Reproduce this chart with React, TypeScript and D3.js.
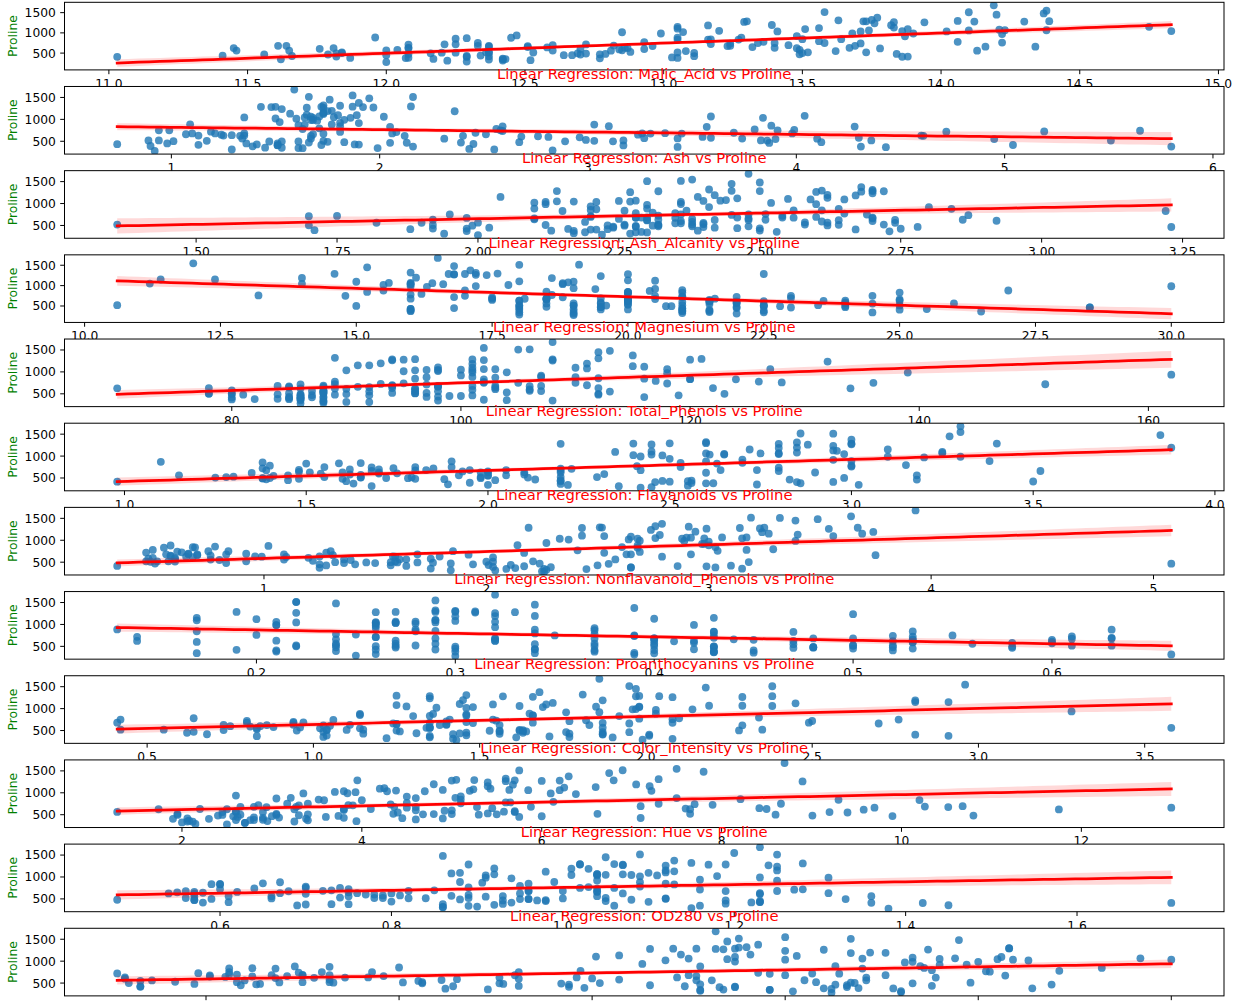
import * as d3 from "d3";

// wine dataset, 178 samples per column (class 1 / class 2 / class 3)
const alcohol = [
  14.23, 13.2, 13.16, 14.37, 13.24, 14.2, 14.39, 14.06, 14.83, 13.86, 14.1, 14.12, 13.75, 14.75, 14.38, 13.63, 14.3, 13.83, 14.19, 13.64, 14.06, 12.93, 13.71, 12.85, 13.5, 13.05, 13.39, 13.3, 13.87, 14.02, 13.73, 13.58, 13.68, 13.76, 13.51, 13.48, 13.28, 13.05, 13.07, 14.22, 13.56, 13.41, 13.88, 13.24, 13.05, 14.21, 14.38, 13.9, 14.1, 13.94, 13.05, 13.83, 13.82, 13.77, 13.74, 13.56, 14.22, 13.29, 13.72,
  12.37, 12.33, 12.64, 13.67, 12.37, 12.17, 12.37, 13.11, 12.37, 13.34, 12.21, 12.29, 13.86, 13.49, 12.99, 11.96, 11.66, 13.03, 11.84, 12.33, 12.7, 12, 12.72, 12.08, 13.05, 11.84, 12.67, 12.16, 11.65, 11.64, 12.08, 12.08, 12, 12.69, 12.29, 11.62, 12.47, 11.81, 12.29, 12.37, 12.29, 12.08, 12.6, 12.34, 11.82, 12.51, 12.42, 12.25, 12.72, 12.22, 11.61, 11.46, 12.52, 11.76, 11.41, 12.08, 11.03, 11.82, 12.42, 12.77, 12, 11.45, 11.56, 12.42, 13.05, 11.87, 12.07, 12.43, 11.79, 12.37, 12.04,
  12.86, 12.88, 12.81, 12.7, 12.51, 12.6, 12.25, 12.53, 13.49, 12.84, 12.93, 13.36, 13.52, 13.62, 12.25, 13.16, 13.88, 12.87, 13.32, 13.08, 13.5, 12.79, 13.11, 13.23, 12.58, 13.17, 13.84, 12.45, 14.34, 13.48, 12.36, 13.69, 12.85, 12.96, 13.78, 13.73, 13.45, 12.82, 13.58, 13.4, 12.2, 12.77, 14.16, 13.71, 13.4, 13.27, 13.17, 14.13,
];
const malicAcid = [
  1.71, 1.78, 2.36, 1.95, 2.59, 1.76, 1.87, 2.15, 1.64, 1.35, 2.16, 1.48, 1.73, 1.73, 1.87, 1.81, 1.92, 1.57, 1.59, 3.1, 1.63, 3.8, 1.86, 1.6, 1.81, 2.05, 1.77, 1.72, 1.9, 1.68, 1.5, 1.66, 1.83, 1.53, 1.8, 1.81, 1.64, 1.65, 1.5, 3.99, 1.71, 3.84, 1.89, 3.98, 1.77, 4.04, 3.59, 1.68, 2.02, 1.73, 1.73, 1.65, 1.75, 1.9, 1.67, 1.73, 1.7, 1.97, 1.43,
  0.94, 1.1, 1.36, 1.25, 1.13, 1.45, 1.21, 1.01, 1.17, 0.94, 1.19, 1.61, 1.51, 1.66, 1.67, 1.09, 1.88, 0.9, 2.89, 0.99, 3.87, 0.92, 1.81, 1.13, 3.86, 0.89, 0.98, 1.61, 1.67, 2.06, 1.33, 1.83, 1.51, 1.53, 2.83, 1.99, 1.52, 2.12, 1.41, 1.07, 3.17, 2.08, 1.34, 2.45, 1.72, 1.73, 2.55, 1.73, 1.75, 1.29, 1.35, 3.74, 2.43, 2.68, 0.74, 1.39, 1.51, 1.47, 1.61, 3.43, 3.43, 2.4, 2.05, 4.43, 5.8, 4.31, 2.16, 1.53, 2.13, 1.63, 4.3,
  1.35, 2.99, 2.31, 3.55, 1.24, 2.46, 4.72, 5.51, 3.59, 2.96, 2.81, 2.56, 3.17, 4.95, 3.88, 3.57, 5.04, 4.61, 3.24, 3.9, 3.12, 2.67, 1.9, 3.3, 1.29, 5.19, 4.12, 3.03, 1.68, 1.67, 3.83, 3.26, 3.27, 3.45, 2.76, 4.36, 3.7, 3.37, 2.58, 4.6, 3.03, 2.39, 2.51, 5.65, 3.91, 4.28, 2.59, 4.1,
];
const ash = [
  2.43, 2.14, 2.67, 2.5, 2.87, 2.45, 2.45, 2.61, 2.17, 2.27, 2.3, 2.32, 2.41, 2.39, 2.38, 2.7, 2.72, 2.62, 2.48, 2.56, 2.28, 2.65, 2.36, 2.52, 2.61, 3.22, 2.62, 2.14, 2.8, 2.21, 2.7, 2.36, 2.36, 2.7, 2.65, 2.41, 2.84, 2.55, 2.1, 2.51, 2.31, 2.12, 2.59, 2.29, 2.1, 2.44, 2.28, 2.12, 2.4, 2.27, 2.04, 2.6, 2.42, 2.68, 2.25, 2.46, 2.3, 2.68, 2.5,
  1.36, 2.28, 2.02, 1.92, 2.16, 2.53, 2.56, 1.7, 1.92, 2.36, 1.75, 2.21, 2.67, 2.24, 2.6, 2.3, 1.92, 1.71, 2.23, 1.95, 2.4, 2, 2.2, 2.51, 2.32, 2.58, 2.24, 2.31, 2.62, 2.46, 2.3, 2.32, 2.42, 2.26, 2.22, 2.28, 2.2, 2.74, 1.98, 2.1, 2.21, 1.7, 1.9, 2.46, 1.88, 1.98, 2.27, 2.12, 2.28, 1.94, 2.7, 1.82, 2.17, 2.92, 2.5, 2.5, 2.2, 1.99, 2.19, 1.98, 2, 2.42, 3.23, 2.73, 2.13, 2.39, 2.17, 2.29, 2.78, 2.3, 2.38,
  2.32, 2.4, 2.4, 2.36, 2.25, 2.2, 2.54, 2.64, 2.19, 2.61, 2.7, 2.35, 2.72, 2.35, 2.2, 2.15, 2.23, 2.48, 2.38, 2.36, 2.62, 2.48, 2.75, 2.28, 2.1, 2.32, 2.38, 2.64, 2.7, 2.64, 2.38, 2.54, 2.58, 2.35, 2.3, 2.26, 2.6, 2.3, 2.69, 2.86, 2.32, 2.28, 2.48, 2.45, 2.48, 2.26, 2.37, 2.74,
];
const ashAlcanity = [
  15.6, 11.2, 18.6, 16.8, 21, 15.2, 14.6, 17.6, 14, 16, 18, 16.8, 16, 11.4, 12, 17.2, 20, 20, 16.5, 15.2, 16, 18.6, 16.6, 17.8, 20, 25, 16.1, 17, 19.4, 16, 22.5, 19.1, 17.2, 19.5, 19, 20.5, 15.5, 18, 15.5, 13.2, 16.2, 18.8, 15, 17.5, 17, 18.9, 16, 16, 18.8, 17.4, 12.4, 17.2, 14, 17.1, 16.4, 20.5, 16.3, 16.8, 16.7,
  10.6, 16, 16.8, 18, 19, 19, 18.1, 15, 19.6, 17, 16.8, 20.4, 25, 24, 30, 21, 16, 16, 18, 14.8, 23, 19, 18.8, 24, 22.5, 18, 18, 22.8, 26, 21.6, 23.6, 18.5, 22, 20.7, 18, 18, 19, 21.5, 16, 18.5, 18, 17.5, 18.5, 21, 19.5, 20.5, 22, 19, 22.5, 19, 20, 19.5, 21, 20, 21, 22.5, 21.5, 20.8, 22.5, 16, 19, 20, 28.5, 26.5, 21.5, 21, 21, 21.5, 28.5, 24.5, 22,
  18, 20, 24, 21.5, 17.5, 18.5, 21, 25, 19.5, 24, 21, 20, 23.5, 20, 18.5, 21, 20, 21.5, 21.5, 21.5, 24, 22, 25.5, 18.5, 20, 22, 19.5, 27, 25, 22.5, 21, 20, 22, 18.5, 22, 22.5, 23, 19.5, 24.5, 25, 19, 19.5, 20, 20.5, 23, 20, 20, 24.5,
];
const magnesium = [
  127, 100, 101, 113, 118, 112, 96, 121, 97, 98, 105, 95, 89, 91, 102, 112, 120, 115, 108, 116, 126, 102, 101, 95, 96, 124, 93, 94, 107, 96, 101, 106, 104, 132, 110, 100, 110, 98, 98, 128, 117, 90, 101, 103, 107, 111, 102, 101, 103, 108, 92, 94, 111, 115, 118, 116, 118, 102, 108,
  88, 101, 100, 94, 87, 104, 98, 78, 78, 110, 151, 103, 86, 87, 139, 101, 97, 86, 112, 136, 101, 86, 86, 78, 85, 94, 99, 90, 88, 84, 70, 81, 86, 80, 88, 98, 162, 134, 85, 88, 88, 97, 88, 98, 86, 85, 90, 80, 84, 92, 94, 107, 88, 103, 88, 84, 85, 86, 108, 80, 87, 96, 119, 102, 86, 82, 85, 86, 92, 88, 80,
  122, 104, 98, 106, 85, 94, 89, 96, 88, 101, 96, 89, 97, 92, 112, 102, 80, 86, 92, 113, 123, 112, 116, 98, 103, 93, 89, 97, 98, 89, 88, 107, 106, 106, 90, 88, 111, 88, 105, 112, 96, 86, 91, 95, 102, 120, 120, 96,
];
const totalPhenols = [
  2.8, 2.65, 2.8, 3.85, 2.8, 3.27, 2.5, 2.6, 2.8, 2.98, 2.95, 2.2, 2.6, 3.1, 3.3, 2.85, 2.8, 2.95, 3.3, 2.7, 3, 2.41, 2.61, 2.48, 2.53, 2.63, 2.85, 2.4, 2.95, 2.65, 3, 2.86, 2.42, 2.95, 2.35, 2.7, 2.6, 2.45, 2.4, 3, 3.15, 2.45, 3.25, 2.64, 3, 2.85, 3.25, 3.1, 2.75, 2.88, 2.72, 2.45, 3.88, 3, 2.6, 2.96, 3.2, 3, 3.4,
  1.98, 2.05, 2.02, 2.1, 3.5, 1.89, 2.42, 2.98, 2.11, 2.53, 1.85, 1.1, 2.95, 1.88, 3.3, 3.38, 1.61, 1.95, 1.72, 1.9, 2.83, 2.42, 2.2, 2, 1.65, 2.2, 2.2, 1.78, 1.92, 1.95, 2.2, 1.6, 1.45, 1.38, 2.45, 3.02, 2.5, 1.6, 2.55, 3.52, 2.85, 2.23, 1.45, 2.56, 2.5, 2.2, 1.68, 1.65, 1.38, 2.36, 2.74, 3.18, 2.55, 1.75, 2.48, 2.56, 2.46, 1.98, 2, 1.63, 2, 2.9, 3.18, 2.2, 2.62, 2.86, 2.6, 2.74, 2.13, 2.22, 2.1,
  1.51, 1.3, 1.15, 1.7, 2, 1.62, 1.38, 1.79, 1.62, 2.32, 1.54, 1.4, 1.55, 2, 1.38, 1.5, 0.98, 1.7, 1.93, 1.41, 1.4, 1.48, 2.2, 1.8, 1.48, 1.74, 1.8, 1.9, 2.8, 2.6, 2.3, 1.83, 1.65, 1.39, 1.35, 1.28, 1.7, 1.48, 1.55, 1.98, 1.25, 1.39, 1.68, 1.68, 1.8, 1.59, 1.65, 2.05,
];
const flavanoids = [
  3.06, 2.76, 3.24, 3.49, 2.69, 3.39, 2.52, 2.51, 2.98, 3.15, 3.32, 2.43, 2.76, 3.69, 3.64, 2.91, 3.14, 3.4, 3.93, 3.03, 3.17, 2.41, 2.88, 2.37, 2.61, 2.68, 2.94, 2.19, 2.97, 2.33, 3.25, 3.19, 2.69, 2.74, 2.53, 2.98, 2.68, 2.43, 2.64, 3.04, 3.29, 2.68, 3.56, 2.63, 3, 2.65, 3.17, 3.39, 2.92, 3.54, 3.27, 2.99, 3.74, 2.79, 2.9, 2.78, 3, 3.23, 3.67,
  0.57, 1.09, 1.41, 1.79, 3.1, 1.75, 2.65, 3.18, 2, 1.3, 1.28, 1.02, 2.86, 1.84, 2.89, 2.14, 1.57, 2.03, 1.32, 1.85, 2.55, 2.26, 2.53, 1.58, 1.59, 2.21, 1.94, 1.69, 1.61, 1.69, 1.59, 1.5, 1.25, 1.46, 2.25, 2.26, 2.27, 0.99, 2.5, 3.75, 2.99, 2.17, 1.36, 2.11, 1.64, 1.92, 1.84, 2.03, 1.76, 2.04, 2.92, 2.58, 2.27, 2.03, 2.01, 2.29, 2.17, 1.6, 2.09, 1.25, 1.64, 2.79, 5.08, 2.13, 2.65, 3.03, 2.65, 3.15, 2.24, 2.45, 1.75,
  1.25, 1.22, 1.09, 1.2, 0.58, 0.66, 0.47, 0.6, 0.48, 0.6, 0.5, 0.5, 0.52, 0.8, 0.78, 0.55, 0.34, 0.65, 0.76, 1.39, 1.57, 1.36, 1.28, 0.83, 0.58, 0.63, 0.83, 0.58, 1.31, 1.1, 0.92, 0.56, 0.6, 0.7, 0.68, 0.47, 0.92, 0.66, 0.84, 0.96, 0.49, 0.51, 0.7, 0.61, 0.75, 0.69, 0.68, 0.76,
];
const nonflavanoidPhenols = [
  0.28, 0.26, 0.3, 0.24, 0.39, 0.34, 0.3, 0.31, 0.29, 0.22, 0.22, 0.26, 0.29, 0.43, 0.29, 0.3, 0.33, 0.4, 0.32, 0.17, 0.24, 0.25, 0.27, 0.26, 0.28, 0.47, 0.34, 0.27, 0.37, 0.26, 0.29, 0.22, 0.42, 0.5, 0.29, 0.26, 0.34, 0.29, 0.28, 0.2, 0.34, 0.27, 0.17, 0.32, 0.28, 0.3, 0.27, 0.21, 0.32, 0.32, 0.17, 0.22, 0.32, 0.39, 0.21, 0.2, 0.26, 0.31, 0.19,
  0.28, 0.63, 0.53, 0.32, 0.19, 0.45, 0.37, 0.26, 0.27, 0.55, 0.14, 0.37, 0.21, 0.27, 0.21, 0.13, 0.34, 0.24, 0.43, 0.35, 0.43, 0.3, 0.26, 0.4, 0.61, 0.22, 0.3, 0.43, 0.4, 0.48, 0.42, 0.52, 0.5, 0.58, 0.25, 0.17, 0.32, 0.14, 0.29, 0.24, 0.45, 0.26, 0.29, 0.34, 0.37, 0.32, 0.66, 0.37, 0.48, 0.39, 0.29, 0.24, 0.26, 0.6, 0.42, 0.43, 0.52, 0.3, 0.34, 0.43, 0.37, 0.32, 0.47, 0.43, 0.3, 0.21, 0.37, 0.39, 0.58, 0.4, 0.42,
  0.21, 0.24, 0.27, 0.17, 0.6, 0.63, 0.53, 0.63, 0.58, 0.53, 0.53, 0.37, 0.5, 0.47, 0.29, 0.43, 0.4, 0.47, 0.45, 0.34, 0.22, 0.24, 0.26, 0.61, 0.53, 0.61, 0.48, 0.63, 0.53, 0.52, 0.5, 0.5, 0.6, 0.4, 0.41, 0.52, 0.43, 0.4, 0.39, 0.27, 0.4, 0.48, 0.44, 0.52, 0.43, 0.43, 0.53, 0.56,
];
const proanthocyanins = [
  2.29, 1.28, 2.81, 2.18, 1.82, 1.97, 1.98, 1.25, 1.98, 1.85, 2.38, 1.57, 1.81, 2.81, 2.96, 1.46, 1.97, 1.72, 1.86, 1.66, 2.1, 1.98, 1.69, 1.46, 1.66, 1.92, 1.45, 1.35, 1.76, 1.98, 2.38, 1.95, 1.97, 1.35, 1.54, 1.86, 1.36, 1.44, 1.37, 2.08, 2.34, 1.48, 1.7, 1.66, 2.03, 1.25, 2.19, 2.14, 2.38, 2.08, 2.91, 2.29, 1.87, 1.68, 1.62, 2.45, 2.03, 1.66, 2.04,
  0.42, 0.41, 0.62, 0.73, 1.87, 1.03, 2.08, 2.28, 1.04, 0.42, 2.5, 1.46, 1.87, 1.03, 1.96, 1.65, 1.15, 1.46, 0.95, 2.76, 1.95, 1.43, 1.77, 1.4, 1.62, 2.35, 1.46, 1.56, 1.34, 1.35, 1.38, 1.64, 1.63, 1.62, 1.99, 1.35, 3.28, 1.56, 1.77, 1.95, 2.81, 1.4, 1.35, 1.31, 1.42, 1.48, 1.42, 1.63, 1.63, 2.08, 2.49, 3.58, 1.22, 1.05, 1.44, 1.04, 2.01, 1.53, 1.61, 0.83, 1.87, 1.83, 1.87, 1.71, 2.01, 2.91, 1.35, 1.77, 1.76, 1.9, 1.35,
  0.94, 0.83, 0.83, 0.84, 1.25, 0.94, 0.8, 1.1, 0.88, 0.81, 0.75, 0.64, 0.55, 1.02, 1.14, 1.3, 0.68, 0.86, 1.25, 1.14, 1.25, 1.26, 1.56, 1.87, 1.4, 1.55, 1.56, 1.14, 2.7, 2.29, 1.04, 0.8, 0.96, 0.94, 1.03, 1.15, 1.46, 0.97, 1.54, 1.11, 0.73, 0.64, 1.24, 1.06, 1.41, 1.35, 1.46, 1.35,
];
const colorIntensity = [
  5.64, 4.38, 5.68, 7.8, 4.32, 6.75, 5.25, 5.05, 5.2, 7.22, 5.75, 5, 5.6, 5.4, 7.5, 7.3, 6.2, 6.6, 8.7, 5.1, 5.65, 4.5, 3.8, 3.93, 3.52, 3.58, 4.8, 3.95, 4.5, 4.7, 5.7, 6.9, 3.84, 5.4, 4.2, 5.1, 4.6, 4.25, 3.7, 5.1, 6.13, 4.28, 5.43, 4.36, 5.04, 5.24, 4.9, 6.1, 6.2, 8.9, 7.2, 5.6, 7.05, 6.3, 5.85, 6.25, 6.38, 6, 6.8,
  1.95, 3.27, 5.75, 3.8, 4.45, 2.95, 4.6, 5.3, 4.68, 3.17, 2.85, 3.05, 3.38, 3.74, 3.35, 3.21, 3.8, 4.6, 2.65, 3.4, 2.57, 2.5, 3.9, 2.2, 4.8, 3.05, 2.62, 2.45, 2.6, 2.8, 1.74, 2.4, 3.6, 3.05, 2.15, 3.25, 2.6, 2.5, 2.9, 4.5, 2.3, 3.3, 2.45, 2.8, 2.06, 2.94, 2.7, 3.4, 3.3, 2.7, 2.65, 2.9, 2, 3.8, 3.08, 2.9, 1.9, 1.95, 2.06, 3.4, 1.28, 3.25, 6, 2.08, 2.6, 2.8, 2.76, 3.94, 3, 2.12, 2.6,
  4.1, 5.4, 5.7, 5, 5.45, 7.1, 3.85, 5, 5.7, 4.92, 4.6, 5.6, 4.35, 4.4, 8.21, 4, 4.9, 7.65, 8.42, 9.4, 8.6, 10.8, 7.1, 10.52, 7.6, 7.9, 9.01, 7.5, 13, 11.75, 7.65, 5.88, 5.58, 5.28, 9.58, 6.62, 10.68, 10.26, 8.66, 8.5, 5.5, 9.9, 9.7, 7.7, 7.3, 10.2, 9.3, 9.2,
];
const hue = [
  1.04, 1.05, 1.03, 0.86, 1.04, 1.05, 1.02, 1.06, 1.08, 1.01, 1.25, 1.17, 1.15, 1.25, 1.2, 1.28, 1.07, 1.13, 1.23, 0.96, 1.09, 1.03, 1.11, 1.09, 1.12, 1.13, 0.92, 1.02, 1.25, 1.04, 1.19, 1.09, 1.23, 1.25, 1.1, 1.04, 1.09, 1.12, 1.18, 0.89, 0.95, 0.91, 0.88, 0.82, 0.88, 0.87, 1.04, 0.91, 1.07, 1.12, 1.12, 1.24, 1.01, 1.13, 0.92, 0.98, 0.94, 1.07, 0.89,
  1.05, 1.25, 0.98, 1.23, 1.22, 1.45, 1.19, 1.12, 1.12, 1.02, 1.28, 0.906, 1.36, 0.98, 1.31, 0.99, 1.23, 1.19, 0.96, 1.06, 1.19, 1.38, 1.16, 1.31, 0.84, 0.79, 1.23, 1.33, 1.36, 1, 1.07, 1.08, 1.05, 0.96, 1.15, 1.16, 1.16, 0.95, 1.23, 1.04, 1.42, 1.27, 1.04, 0.8, 0.94, 1.04, 0.86, 1, 0.88, 0.86, 0.96, 0.75, 0.9, 1.23, 1.1, 0.93, 1.71, 0.95, 1.06, 0.7, 0.93, 0.8, 0.93, 0.92, 0.73, 0.75, 0.86, 0.69, 0.97, 0.89, 0.79,
  0.76, 0.74, 0.66, 0.78, 0.75, 0.73, 0.75, 0.82, 0.81, 0.89, 0.77, 0.7, 0.89, 0.91, 0.65, 0.6, 0.58, 0.54, 0.55, 0.57, 0.59, 0.48, 0.61, 0.56, 0.58, 0.6, 0.57, 0.67, 0.57, 0.57, 0.56, 0.96, 0.87, 0.68, 0.7, 0.78, 0.85, 0.72, 0.74, 0.67, 0.66, 0.57, 0.62, 0.64, 0.7, 0.59, 0.6, 0.61,
];
const od280 = [
  3.92, 3.4, 3.17, 3.45, 2.93, 2.85, 3.58, 3.58, 2.85, 3.55, 3.17, 2.82, 2.9, 2.73, 3, 2.88, 2.65, 2.57, 2.82, 3.36, 3.71, 3.52, 4, 3.63, 3.82, 3.2, 3.22, 2.77, 3.4, 3.59, 2.71, 2.88, 2.87, 3, 2.87, 3.47, 2.78, 2.51, 2.69, 3.53, 3.38, 3, 3.56, 3, 3.35, 3.33, 3.44, 3.33, 2.75, 3.1, 2.91, 3.37, 3.26, 2.93, 3.2, 3.03, 3.31, 2.84, 2.87,
  1.82, 1.67, 1.59, 2.46, 2.87, 2.23, 2.3, 3.18, 3.48, 1.93, 3.07, 1.82, 3.16, 2.78, 3.5, 3.13, 2.14, 2.48, 2.52, 2.31, 3.13, 3.12, 3.14, 2.72, 2.01, 3.08, 3.16, 2.26, 3.21, 2.75, 3.21, 2.27, 2.65, 2.06, 3.3, 2.96, 2.63, 2.26, 2.74, 2.77, 2.83, 2.96, 2.77, 3.38, 2.44, 3.57, 3.3, 3.17, 2.42, 3.02, 3.26, 2.81, 2.78, 2.5, 2.31, 3.19, 2.87, 3.33, 2.96, 2.12, 3.05, 3.39, 3.69, 3.12, 3.1, 3.64, 3.28, 2.84, 2.44, 2.78, 2.57,
  1.29, 1.42, 1.36, 1.29, 1.51, 1.58, 1.27, 1.69, 1.82, 2.15, 2.31, 2.47, 2.06, 2.05, 2, 1.68, 1.33, 1.86, 1.62, 1.33, 1.3, 1.47, 1.33, 1.51, 1.55, 1.48, 1.64, 1.73, 1.96, 1.78, 1.58, 1.82, 2.11, 1.75, 1.68, 1.75, 1.56, 1.75, 1.8, 1.92, 1.83, 1.63, 1.71, 1.74, 1.56, 1.56, 1.62, 1.6,
];
const proline = [
  1065, 1050, 1185, 1480, 735, 1450, 1290, 1295, 1045, 1045, 1510, 1280, 1320, 1150, 1547, 1310, 1280, 1130, 1680, 845, 780, 770, 1035, 1015, 845, 830, 1195, 1285, 915, 1035, 1285, 1515, 990, 1235, 1095, 920, 880, 1105, 1020, 760, 795, 1035, 1095, 680, 885, 1080, 1065, 985, 1060, 1260, 1150, 1265, 1190, 1375, 1060, 1120, 970, 1270, 1285,
  520, 680, 450, 630, 420, 355, 678, 502, 510, 750, 718, 870, 410, 472, 985, 886, 428, 392, 500, 750, 463, 278, 714, 630, 515, 520, 450, 495, 562, 680, 625, 480, 450, 495, 290, 345, 937, 625, 428, 660, 406, 710, 562, 438, 415, 672, 315, 510, 488, 312, 680, 562, 325, 607, 434, 385, 407, 495, 345, 372, 564, 625, 465, 365, 380, 380, 378, 352, 466, 342, 580,
  630, 530, 560, 600, 650, 695, 720, 515, 580, 590, 600, 780, 520, 550, 855, 830, 415, 625, 650, 550, 500, 480, 425, 675, 640, 725, 480, 880, 660, 620, 520, 680, 570, 675, 615, 520, 695, 685, 750, 630, 510, 470, 660, 740, 750, 835, 840, 560,
];

const featureNames = [
  "Alcohol", "Malic_Acid", "Ash", "Ash_Alcanity", "Magnesium", "Total_Phenols",
  "Flavanoids", "Nonflavanoid_Phenols", "Proanthocyanins", "Color_Intensity", "Hue", "OD280",
];
const featureValues = [
  alcohol, malicAcid, ash, ashAlcanity, magnesium, totalPhenols,
  flavanoids, nonflavanoidPhenols, proanthocyanins, colorIntensity, hue, od280,
];
const xTicks = [
  [11, 11.5, 12, 12.5, 13, 13.5, 14, 14.5, 15],
  [1, 2, 3, 4, 5, 6],
  [1.5, 1.75, 2, 2.25, 2.5, 2.75, 3, 3.25],
  [10, 12.5, 15, 17.5, 20, 22.5, 25, 27.5, 30],
  [80, 100, 120, 140, 160],
  [1, 1.5, 2, 2.5, 3, 3.5, 4],
  [1, 2, 3, 4, 5],
  [0.2, 0.3, 0.4, 0.5, 0.6],
  [0.5, 1, 1.5, 2, 2.5, 3, 3.5],
  [2, 4, 6, 8, 10, 12],
  [0.6, 0.8, 1, 1.2, 1.4, 1.6],
  [1.5, 2, 2.5, 3, 3.5, 4],
];
const xTickDecimals = [1, 0, 2, 1, 0, 1, 0, 1, 1, 0, 1, 1];
const yTicks = [500, 1000, 1500];

// layout (px)
const W = 1238;
const H = 1002;
const axLeft = 64.5;
const axRight = 1224;
const axTop0 = 2.3;
const axPitch = 84.18;
const axHeight = 67.6;
const tickLen = 4.3;
const tickPad = 4.3;
const font = "DejaVu Sans";
const tickSize = 12.3;
const titleSize = 14.8;

const pointColor = "#1f77b4";
const T_CRIT = 1.9735; // t(0.975, 176)

function fitRegression(xs: number[], ys: number[]) {
  const n = xs.length;
  const mx = d3.mean(xs)!;
  const my = d3.mean(ys)!;
  let sxx = 0, sxy = 0;
  for (let i = 0; i < n; i++) {
    sxx += (xs[i] - mx) ** 2;
    sxy += (xs[i] - mx) * (ys[i] - my);
  }
  const b = sxy / sxx;
  const a = my - b * mx;
  let sse = 0;
  for (let i = 0; i < n; i++) sse += (ys[i] - (a + b * xs[i])) ** 2;
  const s = Math.sqrt(sse / (n - 2));
  const [x0, x1] = d3.extent(xs) as [number, number];
  const grid = d3.range(100).map((i) => x0 + ((x1 - x0) * i) / 99);
  return grid.map((x) => {
    const yhat = a + b * x;
    const se = s * Math.sqrt(1 / n + (x - mx) ** 2 / sxx);
    return { x, y: yhat, lo: yhat - T_CRIT * se, hi: yhat + T_CRIT * se };
  });
}

function Subplot({ idx }: { idx: number }) {
  const xs = featureValues[idx];
  const ys = proline;
  const fit = fitRegression(xs, ys);
  const top = axTop0 + idx * axPitch;
  const bottom = top + axHeight;

  const [xmin, xmax] = d3.extent(xs) as [number, number];
  const xr = xmax - xmin;
  const x = d3.scaleLinear().domain([xmin - 0.05 * xr, xmax + 0.05 * xr]).range([axLeft, axRight]);

  const ylo = Math.min(d3.min(ys)!, d3.min(fit, (d) => d.lo)!);
  const yhi = Math.max(d3.max(ys)!, d3.max(fit, (d) => d.hi)!);
  const yr = yhi - ylo;
  const y = d3.scaleLinear().domain([ylo - 0.05 * yr, yhi + 0.05 * yr]).range([bottom, top]);

  const band = d3.area<{ x: number; lo: number; hi: number }>()
    .x((d) => x(d.x)).y0((d) => y(d.lo)).y1((d) => y(d.hi));
  const line = d3.line<{ x: number; y: number }>().x((d) => x(d.x)).y((d) => y(d.y));
  const clipId = `clip-${idx}`;
  const fmt = d3.format(`.${xTickDecimals[idx]}f`);

  return (
    <g>
      <defs>
        <clipPath id={clipId}>
          <rect x={axLeft} y={top} width={axRight - axLeft} height={axHeight} />
        </clipPath>
      </defs>
      <rect x={axLeft} y={top} width={axRight - axLeft} height={axHeight} fill="white" />
      <g clipPath={`url(#${clipId})`}>
        {xs.map((v, i) => (
          <circle key={i} cx={x(v)} cy={y(ys[i])} r={3.9} fill={pointColor} fillOpacity={0.8} />
        ))}
        <path d={band(fit) || ""} fill="red" fillOpacity={0.15} />
        <path d={line(fit) || ""} fill="none" stroke="red" strokeWidth={2.75} strokeLinecap="square" />
      </g>
      <rect x={axLeft} y={top} width={axRight - axLeft} height={axHeight} fill="none" stroke="black" strokeWidth={1} />
      {/* x axis */}
      {xTicks[idx].map((t) => (
        <g key={t}>
          <line x1={x(t)} x2={x(t)} y1={bottom} y2={bottom + tickLen} stroke="black" strokeWidth={1} />
          <text x={x(t)} y={bottom + tickLen + tickPad} dy="0.76em" textAnchor="middle"
            fontFamily={font} fontSize={tickSize} fill="black">{fmt(t)}</text>
        </g>
      ))}
      {/* y axis */}
      {yTicks.map((t) => (
        <g key={t}>
          <line x1={axLeft - tickLen} x2={axLeft} y1={y(t)} y2={y(t)} stroke="black" strokeWidth={1} />
          <text x={axLeft - tickLen - tickPad} y={y(t)} dy="0.36em" textAnchor="end"
            fontFamily={font} fontSize={tickSize} fill="black">{t}</text>
        </g>
      ))}
      <text transform={`translate(17.3, ${(top + bottom) / 2}) rotate(-90)`} textAnchor="middle"
        fontFamily={font} fontSize={tickSize} fill="green">Proline</text>
      <text x={(axLeft + axRight) / 2} y={top - 7.2} textAnchor="middle"
        fontFamily={font} fontSize={titleSize} fill="red">
        {`Linear Regression: ${featureNames[idx]} vs Proline`}
      </text>
    </g>
  );
}

export default function App() {
  return (
    <svg width={W} height={H} style={{ position: "absolute", left: 0, top: 0, display: "block", background: "white" }}>
      <rect width={W} height={H} fill="white" />
      {featureNames.map((_, i) => (
        <Subplot key={i} idx={i} />
      ))}
    </svg>
  );
}
